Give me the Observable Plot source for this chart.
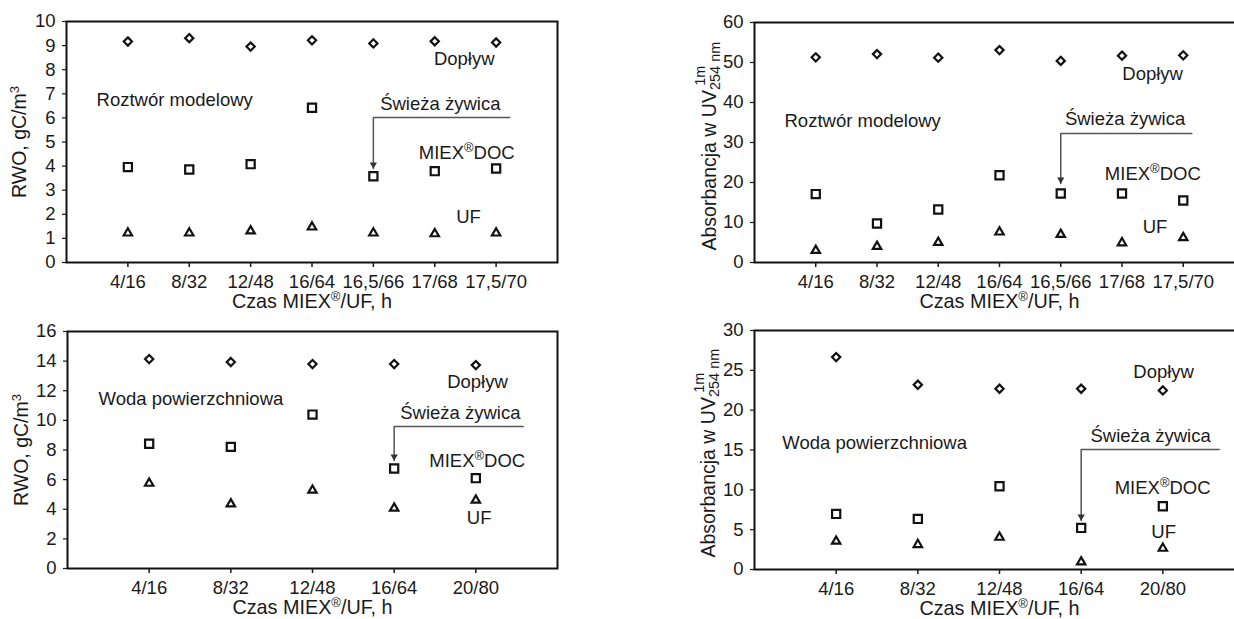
<!DOCTYPE html>
<html><head><meta charset="utf-8">
<script src="https://cdn.jsdelivr.net/npm/d3@7"></script>
<script src="https://cdn.jsdelivr.net/npm/@observablehq/plot@0.6"></script>
<style>
body{margin:0;background:#fff;}
#wrap{position:relative;width:1234px;height:619px;overflow:hidden;background:#fff;}
#wrap svg{position:absolute;}
</style></head>
<body><div id="wrap"></div>
<script>
// ---- data ----
const catsTop = ["4/16","8/32","12/48","16/64","16,5/66","17/68","17,5/70"];
const catsBottom = ["4/16","8/32","12/48","16/64","20/80"];

const rwoModelDoplyw = [9.17, 9.31, 8.96, 9.22, 9.09, 9.18, 9.13];
const rwoModelMiex   = [3.96, 3.86, 4.08, 6.42, 3.58, 3.79, 3.90];
const rwoModelUF     = [1.22, 1.22, 1.31, 1.47, 1.22, 1.19, 1.22];

const uvModelDoplyw = [51.3, 52.1, 51.2, 53.1, 50.4, 51.7, 51.8];
const uvModelMiex   = [17.1, 9.75, 13.25, 21.8, 17.25, 17.25, 15.5];
const uvModelUF     = [3.0, 4.0, 5.0, 7.6, 7.0, 4.9, 6.2];

const rwoSurfDoplyw = [14.14, 13.94, 13.8, 13.8, 13.73];
const rwoSurfMiex   = [8.42, 8.21, 10.39, 6.75, 6.1];
const rwoSurfUF     = [5.75, 4.36, 5.28, 4.07, 4.61];

const uvSurfDoplyw = [26.66, 23.19, 22.69, 22.69, 22.48];
const uvSurfMiex   = [6.98, 6.35, 10.45, 5.22, 7.94];
const uvSurfUF     = [3.54, 3.12, 4.04, 0.95, 2.66];

const xTitle = "Czas MIEX®/UF, h";
const yTitleRwo = "RWO, gC/m3";
const yTitleUv = "Absorbancja w UV254 nm1m";
const lblInflow = "Dopływ";
const lblResin = "Świeża żywica";
const lblMiex = "MIEX®DOC";
const lblUF = "UF";
const lblModel = "Roztwór modelowy";
const lblSurface = "Woda powierzchniowa";

// ---- helpers ----
const FONT = "'Liberation Sans', Arial, Helvetica, sans-serif";
const INK = "#1a1a1a";
const richTable = {
  [yTitleRwo]: [["RWO, gC/m"], ["3", "sup"]],
  [yTitleUv]: [["Absorbancja w UV"], ["254 nm", "sub"], ["1m", "sup2", -44]]
};
function rich(el, segs) {
  while (el.firstChild) el.removeChild(el.firstChild);
  let shift = 0;
  for (const [t, kind, dx] of segs) {
    const ts = document.createElementNS("http://www.w3.org/2000/svg", "tspan");
    let target = 0, size = null;
    if (kind === "sup") { target = -7; size = "13px"; }
    if (kind === "sub") { target = 4; size = "14.5px"; }
    if (kind === "sup2") { target = -11; size = "14.5px"; }
    if (target - shift) ts.setAttribute("dy", target - shift);
    shift = target;
    if (size) ts.setAttribute("font-size", size);
    if (dx) ts.setAttribute("dx", dx);
    ts.textContent = t;
    el.appendChild(ts);
  }
}
function richify(svg) {
  svg.querySelectorAll("text").forEach(el => {
    if (el.querySelector("tspan")) return;
    const s = el.textContent;
    if (richTable[s]) rich(el, richTable[s]);
    else if (s.includes("®")) {
      const [a, b] = s.split("®");
      rich(el, [[a], ["®", "sup"], [b]]);
    }
  });
}

function panel(o) {
  const n = o.cats.length;
  const rows = s => o.cats.map((c, i) => ({i, v: s[i]}));
  const yTitleMark = o.yStart
    ? Plot.text([o.yTitle], {text: d => d, frameAnchor: "bottom-left", dx: o.yDx, dy: -12, rotate: -90, textAnchor: "start", lineAnchor: "middle", fill: INK, fontSize: 19.5})
    : Plot.text([o.yTitle], {text: d => d, frameAnchor: "left", dx: o.yDx, rotate: -90, textAnchor: "middle", lineAnchor: "middle", fill: INK, fontSize: 19.5});
  const N = o.notes;
  const tip = N.arrow[N.arrow.length - 1];
  const svg = Plot.plot({
    width: o.width, height: o.height,
    marginLeft: o.ml, marginRight: 3, marginTop: o.mt, marginBottom: o.mb,
    style: {fontFamily: FONT, fontSize: "18.5px", color: INK, background: "transparent", overflow: "visible"},
    x: {domain: [-1, n]},
    y: {domain: o.y},
    marks: [
      Plot.frame({stroke: "#111", strokeWidth: 2}),
      Plot.axisX(d3.range(n), {tickFormat: i => o.cats[i], tickSize: 5, tickPadding: 7, label: null, strokeWidth: 1.5}),
      Plot.axisY(o.yTicks, {tickSize: 4, tickPadding: 7, label: null, strokeWidth: 1.2}),
      Plot.dot(rows(o.dop), {x: "i", y: "v", symbol: "diamond2", r: 3.7, stroke: "#111", strokeWidth: 2.2}),
      Plot.dot(rows(o.miex), {x: "i", y: "v", symbol: "square2", r: 5.2, stroke: "#111", strokeWidth: 2.2}),
      Plot.dot(rows(o.uf), {x: "i", y: "v", symbol: "triangle2", r: 4, stroke: "#111", strokeWidth: 2.2}),
      Plot.line(N.arrow, {stroke: "#555", strokeWidth: 1.5}),
      Plot.dot([tip], {x: d => d[0], y: d => d[1], symbol: "triangle", rotate: 180, r: 2.7, fill: "#333", dy: -4}),
      Plot.text([lblInflow], {text: d => d, x: N.inflow[0], y: N.inflow[1], textAnchor: "middle", lineAnchor: "middle", fill: INK}),
      Plot.text([o.sample], {text: d => d, x: N.sample[0], y: N.sample[1], textAnchor: "start", lineAnchor: "middle", fill: INK}),
      Plot.text([lblResin], {text: d => d, x: N.resin[0], y: N.resin[1], textAnchor: "middle", lineAnchor: "middle", fill: INK}),
      Plot.text([lblMiex], {text: d => d, x: N.miex[0], y: N.miex[1], textAnchor: "start", lineAnchor: "middle", fill: INK}),
      Plot.text([lblUF], {text: d => d, x: N.uf[0], y: N.uf[1], textAnchor: "middle", lineAnchor: "middle", fill: INK}),
      Plot.text([xTitle], {text: d => d, frameAnchor: "bottom", dy: 45, textAnchor: "middle", lineAnchor: "bottom", fill: INK, fontSize: 19.8}),
      yTitleMark
    ]
  });
  svg.style.left = o.left + "px";
  svg.style.top = o.top + "px";
  richify(svg);
  document.getElementById("wrap").appendChild(svg);
}

panel({left: 0, top: 0, width: 560, height: 310, ml: 66, mt: 21, mb: 48,
  cats: catsTop, dop: rwoModelDoplyw, miex: rwoModelMiex, uf: rwoModelUF,
  y: [0, 10], yTicks: d3.range(0, 11, 1), yTitle: yTitleRwo, yDx: -47, sample: lblModel,
  notes: {inflow: [5.48, 8.42], sample: [-0.51, 6.72], resin: [5.09, 6.56],
    arrow: [[6.22, 6.02], [4, 6.02], [4, 3.9]], miex: [4.74, 4.56], uf: [5.55, 1.87]}});

panel({left: 620, top: 0, width: 627, height: 310, ml: 134, mt: 22, mb: 48,
  cats: catsTop, dop: uvModelDoplyw, miex: uvModelMiex, uf: uvModelUF,
  y: [0, 60], yTicks: d3.range(0, 61, 10), yTitle: yTitleUv, yDx: -45, yStart: true, sample: lblModel,
  notes: {inflow: [5.50, 47], sample: [-0.51, 35.25], resin: [5.05, 35.75],
    arrow: [[6.14, 32.25], [4, 32.25], [4, 19.75]], miex: [4.72, 22], uf: [5.54, 8.75]}});

panel({left: 0, top: 310, width: 560, height: 309, ml: 67, mt: 21, mb: 51,
  cats: catsBottom, dop: rwoSurfDoplyw, miex: rwoSurfMiex, uf: rwoSurfUF,
  y: [0, 16], yTicks: d3.range(0, 17, 2), yTitle: yTitleRwo, yDx: -46, sample: lblSurface,
  notes: {inflow: [4.02, 12.56], sample: [-0.62, 11.41], resin: [3.81, 10.47],
    arrow: [[4.58, 9.59], [3, 9.59], [3, 7.29]], miex: [3.43, 7.22], uf: [4.04, 3.38]}});

panel({left: 620, top: 310, width: 627, height: 309, ml: 134, mt: 20, mb: 50,
  cats: catsBottom, dop: uvSurfDoplyw, miex: uvSurfMiex, uf: uvSurfUF,
  y: [0, 30], yTicks: d3.range(0, 31, 5), yTitle: yTitleUv, yDx: -46, yStart: true, sample: lblSurface,
  notes: {inflow: [4.01, 24.84], sample: [-0.66, 15.93], resin: [3.85, 16.69],
    arrow: [[4.69, 15.06], [3, 15.06], [3, 6.15]], miex: [3.41, 10.16], uf: [4.01, 4.64]}});
</script>
</body></html>
